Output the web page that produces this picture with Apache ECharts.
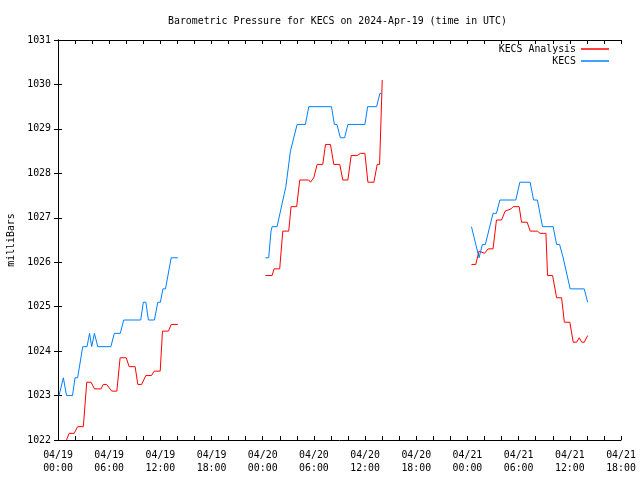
<!DOCTYPE html>
<html>
<head>
<meta charset="utf-8">
<script src="https://cdn.jsdelivr.net/npm/echarts@6/dist/echarts.min.js"></script>
<style>html,body{margin:0;padding:0;background:#fff}#c{width:640px;height:480px}</style>
</head>
<body>
<div id="c"></div>
<script>
// hours since 2024-04-19 00:00 UTC; null breaks the line
var kecsHours = [0.12,0.63,1.0,1.7,2.0,2.3,2.9,3.4,3.7,3.95,4.27,4.66,6.2,6.6,7.3,7.7,9.7,10.0,10.3,10.6,11.3,11.7,12.0,12.3,12.6,13.27,14.05,
  19,
  24.31,24.7,24.97,25.1,25.68,26.71,27.25,28.03,29.0,29.4,32.06,32.4,32.7,33.1,33.6,33.98,35.98,36.3,37.35,37.74,37.9,
  43,
  48.47,48.7,49.36,49.75,50.1,51.0,51.4,51.8,53.67,54.14,55.35,55.75,56.2,56.8,58.05,58.45,58.8,59.22,60.04,61.69,62.09];
var kecsValues = [1023.0,1023.4,1023.0,1023.0,1023.4,1023.4,1024.1,1024.1,1024.4,1024.1,1024.4,1024.1,1024.1,1024.4,1024.4,1024.7,1024.7,1025.1,1025.1,1024.7,1024.7,1025.1,1025.1,1025.4,1025.4,1026.1,1026.1,
  null,
  1026.1,1026.1,1026.7,1026.8,1026.8,1027.7,1028.5,1029.1,1029.1,1029.5,1029.5,1029.1,1029.1,1028.8,1028.8,1029.1,1029.1,1029.5,1029.5,1029.8,1029.8,
  null,
  1026.8,1026.8,1026.1,1026.4,1026.4,1027.1,1027.1,1027.4,1027.4,1027.8,1027.8,1027.4,1027.4,1026.8,1026.8,1026.4,1026.4,1026.1,1025.4,1025.4,1025.1];

var analysisHours = [1.0,1.3,1.9,2.3,2.97,3.37,3.88,4.27,5.05,5.3,5.7,6.3,6.9,7.28,8.0,8.34,9.04,9.36,9.8,10.3,10.96,11.27,11.98,12.25,12.95,13.27,14.05,
  19,
  24.31,25.1,25.33,25.99,26.35,27.05,27.32,27.98,28.34,29.4,29.6,29.98,30.38,31.04,31.36,31.94,32.33,33.03,33.39,33.98,34.37,35.08,35.47,35.98,36.33,37.03,37.42,37.7,38.01,
  43,
  48.47,48.97,49.36,50.0,50.42,51.0,51.4,52.0,52.42,53.1,53.35,54.06,54.34,55.0,55.36,56.2,56.5,57.2,57.39,57.98,58.45,59.04,59.36,60.0,60.4,60.8,61.1,61.4,61.7,62.09];
var analysisValues = [1022.0,1022.15,1022.15,1022.3,1022.3,1023.3,1023.3,1023.15,1023.15,1023.25,1023.25,1023.1,1023.1,1023.85,1023.85,1023.65,1023.65,1023.25,1023.25,1023.45,1023.45,1023.55,1023.55,1024.45,1024.45,1024.6,1024.6,
  null,
  1025.7,1025.7,1025.85,1025.85,1026.7,1026.7,1027.25,1027.25,1027.85,1027.85,1027.8,1027.9,1028.2,1028.2,1028.65,1028.65,1028.2,1028.2,1027.85,1027.85,1028.4,1028.4,1028.45,1028.45,1027.8,1027.8,1028.2,1028.2,1030.1,
  null,
  1025.95,1025.95,1026.25,1026.2,1026.3,1026.3,1026.95,1026.95,1027.15,1027.2,1027.25,1027.25,1026.9,1026.9,1026.7,1026.7,1026.65,1026.65,1025.7,1025.7,1025.2,1025.2,1024.65,1024.65,1024.2,1024.2,1024.3,1024.2,1024.2,1024.35];

var tickLabels = ['04/19\n00:00','04/19\n06:00','04/19\n12:00','04/19\n18:00','04/20\n00:00','04/20\n06:00','04/20\n12:00','04/20\n18:00','04/21\n00:00','04/21\n06:00','04/21\n12:00','04/21\n18:00'];
var yTicks = [1022,1023,1024,1025,1026,1027,1028,1029,1030,1031];

function pairs(h, v){ var out=[]; for(var i=0;i<h.length;i++){ out.push([h[i], v[i]]); } return out; }

var FONT = 'DejaVu Sans Mono';
var FS = 9.9;
var axisLineStyle = {axisLine:{show:true,lineStyle:{color:'#000',width:1}}, axisTick:{show:true,inside:true,length:4,lineStyle:{color:'#000'}}, splitLine:{show:false}};

var chart = echarts.init(document.getElementById('c'), null, {renderer:'canvas'});
chart.setOption({
  animation:false,
  backgroundColor:'#fff',
  title:{text:'Barometric Pressure for KECS on 2024-Apr-19 (time in UTC)', left:168, top:16, padding:0,
    textStyle:{fontFamily:FONT,fontSize:FS,fontWeight:'normal',color:'#000'}},
  legend:[
    {data:['KECS Analysis'], orient:'vertical', align:'right', right:31, top:44, padding:0, itemWidth:28, itemHeight:1.5, icon:'rect',
      textStyle:{fontFamily:FONT,fontSize:FS,color:'#000'}},
    {data:['KECS'], orient:'vertical', align:'right', right:31, top:56, padding:0, itemWidth:28, itemHeight:1.5, icon:'rect',
      textStyle:{fontFamily:FONT,fontSize:FS,color:'#000'}}
  ],
  grid:{left:58,right:19,top:40,bottom:40,containLabel:false,outerBoundsMode:'none'},
  xAxis:[
    Object.assign({type:'value',position:'bottom',min:0,max:66,interval:2,
      axisLabel:{show:true,margin:9,lineHeight:13,fontFamily:FONT,fontSize:FS,color:'#000',hideOverlap:false,
        formatter:function(v){ return (v%6===0) ? tickLabels[v/6] : ''; }}}, axisLineStyle),
    Object.assign({type:'value',position:'top',min:0,max:66,interval:2,axisLabel:{show:false}}, axisLineStyle)
  ],
  yAxis:[
    Object.assign({type:'value',position:'left',min:yTicks[0],max:yTicks[yTicks.length-1],interval:1,
      name:'milliBars',nameLocation:'middle',nameGap:41,nameRotate:90,
      nameTextStyle:{fontFamily:FONT,fontSize:FS,color:'#000'},
      axisLabel:{show:true,margin:7,fontFamily:FONT,fontSize:FS,color:'#000',formatter:function(v){return String(v);}}}, axisLineStyle),
    Object.assign({type:'value',position:'right',min:yTicks[0],max:yTicks[yTicks.length-1],interval:1,axisLabel:{show:false}}, axisLineStyle)
  ],
  series:[
    {name:'KECS Analysis', type:'line', data:pairs(analysisHours, analysisValues), symbol:'none', connectNulls:false,
      lineStyle:{color:'#ff0000',width:1}, itemStyle:{color:'#ff0000'}},
    {name:'KECS', type:'line', data:pairs(kecsHours, kecsValues), symbol:'none', connectNulls:false,
      lineStyle:{color:'#0080ff',width:1}, itemStyle:{color:'#0080ff'}}
  ]
});
</script>
</body>
</html>
